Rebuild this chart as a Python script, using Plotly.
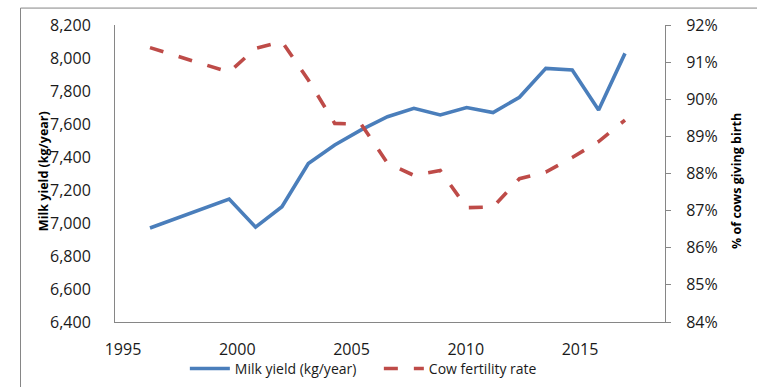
import plotly.graph_objects as go

# Annual series, 1996-2014
years = [1996, 1997, 1998, 1999, 2000, 2001, 2002, 2003, 2004, 2005,
         2006, 2007, 2008, 2009, 2010, 2011, 2012, 2013, 2014]
milk_yield = [6970, 7028, 7087, 7145, 6975, 7099, 7360, 7473, 7564, 7644,
              7695, 7655, 7700, 7669, 7762, 7937, 7927, 7685, 8028]
fertility = [0.9139, 0.9117, 0.9095, 0.9073, 0.9137, 0.9155, 0.9052, 0.8935, 0.8933, 0.8828,
             0.8795, 0.8808, 0.8708, 0.8710, 0.8786, 0.8804, 0.8843, 0.8886, 0.8944]

year_ticks = [1995, 2000, 2005, 2010, 2015]
yield_ticks = [6400, 6600, 6800, 7000, 7200, 7400, 7600, 7800, 8000, 8200]
rate_ticks = [0.84, 0.85, 0.86, 0.87, 0.88, 0.89, 0.90, 0.91, 0.92]

BLUE = "#4A7EBB"
RED = "#BE4B48"
AXIS = "#868686"
TEXT = "#1a1a1a"
FONT = "Open Sans"

fig = go.Figure()
# empty trace so the year axis gets its own subplot and is drawn
fig.add_trace(go.Scatter(x=[], y=[], xaxis="x", yaxis="y",
                         showlegend=False, hoverinfo="skip"))
fig.add_trace(go.Scatter(
    x=years, y=milk_yield, name="Milk yield (kg/year)", mode="lines",
    line=dict(color=BLUE, width=3.6), xaxis="x2", yaxis="y",
))
fig.add_trace(go.Scatter(
    x=years, y=fertility, name="Cow fertility rate", mode="lines",
    line=dict(color=RED, width=3.6, dash="14px,16px"), xaxis="x2", yaxis="y2",
))

fig.update_layout(
    width=757, height=387,
    margin=dict(l=115, r=92, t=25, b=65, autoexpand=False),
    paper_bgcolor="white", plot_bgcolor="white",
    font=dict(family=FONT, size=16, color=TEXT),
    showlegend=True,
    legend=dict(
        orientation="h", x=0.127, y=-0.104, xanchor="left", yanchor="top",
        font=dict(family=FONT, size=14, color=TEXT),
        entrywidth=139, itemwidth=40, bgcolor="rgba(0,0,0,0)",
    ),
    # visible year axis
    xaxis=dict(
        range=[1994.65, 2018.72], tickvals=year_ticks, tickformat="d",
        showgrid=False, zeroline=False, showline=True, linecolor=AXIS, linewidth=1,
        ticks="", ticklabelstandoff=13, tickfont=dict(size=16, color=TEXT),
        anchor="y", automargin=False,
    ),
    # axis carrying the yearly data
    xaxis2=dict(
        range=[1994.674, 2015.516], overlaying="x", anchor="y",
        visible=False, showgrid=False, zeroline=False, automargin=False,
    ),
    yaxis=dict(
        range=[6400, 8200], tickvals=yield_ticks, tickformat=",d",
        showgrid=False, zeroline=False, showline=True, linecolor=AXIS, linewidth=1,
        ticks="", ticklabelstandoff=20, tickfont=dict(size=16, color=TEXT),
        automargin=False,
    ),
    yaxis2=dict(
        range=[0.84, 0.92], tickvals=rate_ticks, tickformat=".0%",
        overlaying="y", side="right", anchor="x",
        showgrid=False, zeroline=False, showline=True, linecolor=AXIS, linewidth=1,
        ticks="outside", ticklen=5, tickcolor=AXIS, ticklabelstandoff=12,
        tickfont=dict(size=16, color=TEXT), automargin=False,
    ),
    annotations=[
        dict(text="<b>Milk yield (kg/year)</b>", xref="paper", yref="paper",
             x=-0.1309, y=0.508, xanchor="center", yanchor="middle",
             showarrow=False, textangle=-90,
             font=dict(family=FONT, size=12.5, color="black")),
        dict(text="<b>% of cows giving birth</b>", xref="paper", yref="paper",
             x=1.1309, y=0.475, xanchor="center", yanchor="middle",
             showarrow=False, textangle=-90,
             font=dict(family=FONT, size=12.5, color="black")),
    ],
    shapes=[
        dict(type="rect", xref="paper", yref="paper",
             x0=-0.1718, x1=1.2, y0=-0.25, y1=1.057,
             line=dict(color=AXIS, width=1), layer="below"),
    ],
)

fig.write_html("out.html")
